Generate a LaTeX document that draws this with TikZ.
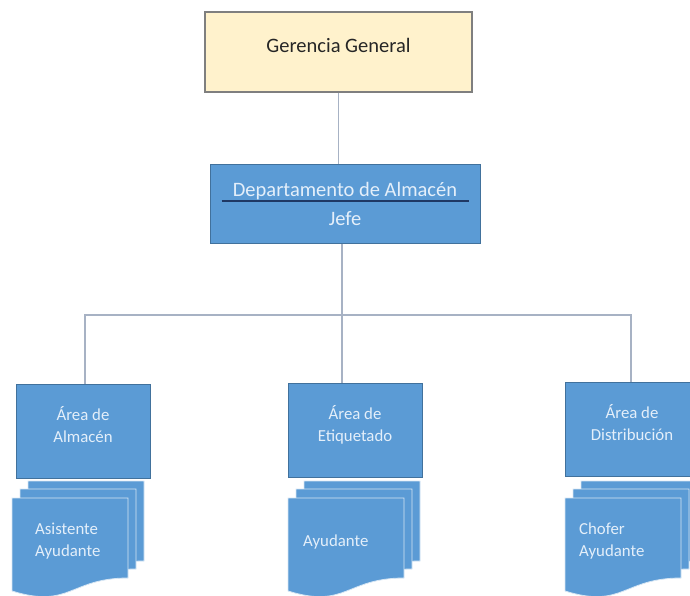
\documentclass[tikz,border=0pt]{standalone}
\usepackage{fontspec}
\setmainfont{Carlito}
\usetikzlibrary{positioning}
\definecolor{gerfill}{HTML}{FFF2CC}
\definecolor{gerborde}{HTML}{7F7F7F}
\definecolor{azul}{HTML}{5B9BD5}
\definecolor{azulborde}{HTML}{41719C}
\definecolor{conector}{HTML}{A7B2C4}
\definecolor{textoclaro}{HTML}{E4EFFA}
\definecolor{rayajefe}{HTML}{1F3864}
\tikzset{
  gerbox/.style={draw=gerborde, line width=1.5pt, fill=gerfill, minimum width=267pt, minimum height=80pt, text depth=14pt, font=\fontsize{20.5}{25}\selectfont, text=black!85},
  deptbox/.style={draw=azulborde, line width=1pt, fill=azul, minimum width=270pt, minimum height=78pt, align=center, font=\fontsize{20.5}{29}\selectfont, text=textoclaro},
  areabox/.style={draw=azulborde, line width=0.9pt, fill=azul, minimum width=134pt, minimum height=94pt, text depth=14pt, align=center, font=\fontsize{16.8}{22}\selectfont, text=textoclaro},
  doctext/.style={align=left, anchor=west, inner sep=0pt, font=\fontsize{16.8}{22}\selectfont, text=textoclaro},
  docshape/.style={fill=azul, draw=white!75!azul, line width=0.8pt},
  linea/.style={draw=conector, line width=1.2pt},
  documento/.pic={
    \filldraw[docshape] (0,0) -- (116,0) -- (116,80)
      .. controls (58,80) and (58,111) .. (0,93) -- cycle;
  }
}
\begin{document}
\begin{tikzpicture}[x=1pt, y=-1pt]
  \useasboundingbox (0,0) rectangle (690,596);

  \node[gerbox] (ger) at (338.5,52) {Gerencia General};
  \node[deptbox] (dept) at (345,204) {Departamento de Almacén\\Jefe};
  \draw[rayajefe, line width=1.5pt] ([xshift=12pt, yshift=3pt]dept.west) -- ([xshift=-12pt, yshift=3pt]dept.east);

  \foreach \dx/\dy in {16/-17, 8/-9, 0/0} {
    \pic at (12+\dx, 498+\dy) {documento};
    \pic at (288+\dx, 498+\dy) {documento};
    \pic at (565+\dx, 498+\dy) {documento};
  }

  \node[areabox] (alm) at (83,431) {Área de\\Almacén};
  \node[areabox] (etiq) at (355,430) {Área de\\Etiquetado};
  \node[areabox] (dist) at (632,429) {Área de\\Distribución};

  \node[doctext] (asis) at (35,541) {Asistente\\Ayudante};
  \node[doctext] (ayud) at (303,542) {Ayudante};
  \node[doctext] (chof) at (579,541) {Chofer\\Ayudante};

  \coordinate (union) at (342,315);
  \draw[linea] (ger.south) -- (ger.south |- dept.north);
  \draw[linea] (dept.south -| union) -- (union);
  \draw[linea] ([xshift=2pt]alm.north) |- (union) -| ([xshift=-1pt]dist.north);
  \draw[linea] (union) -- (union |- etiq.north);
\end{tikzpicture}
\end{document}
